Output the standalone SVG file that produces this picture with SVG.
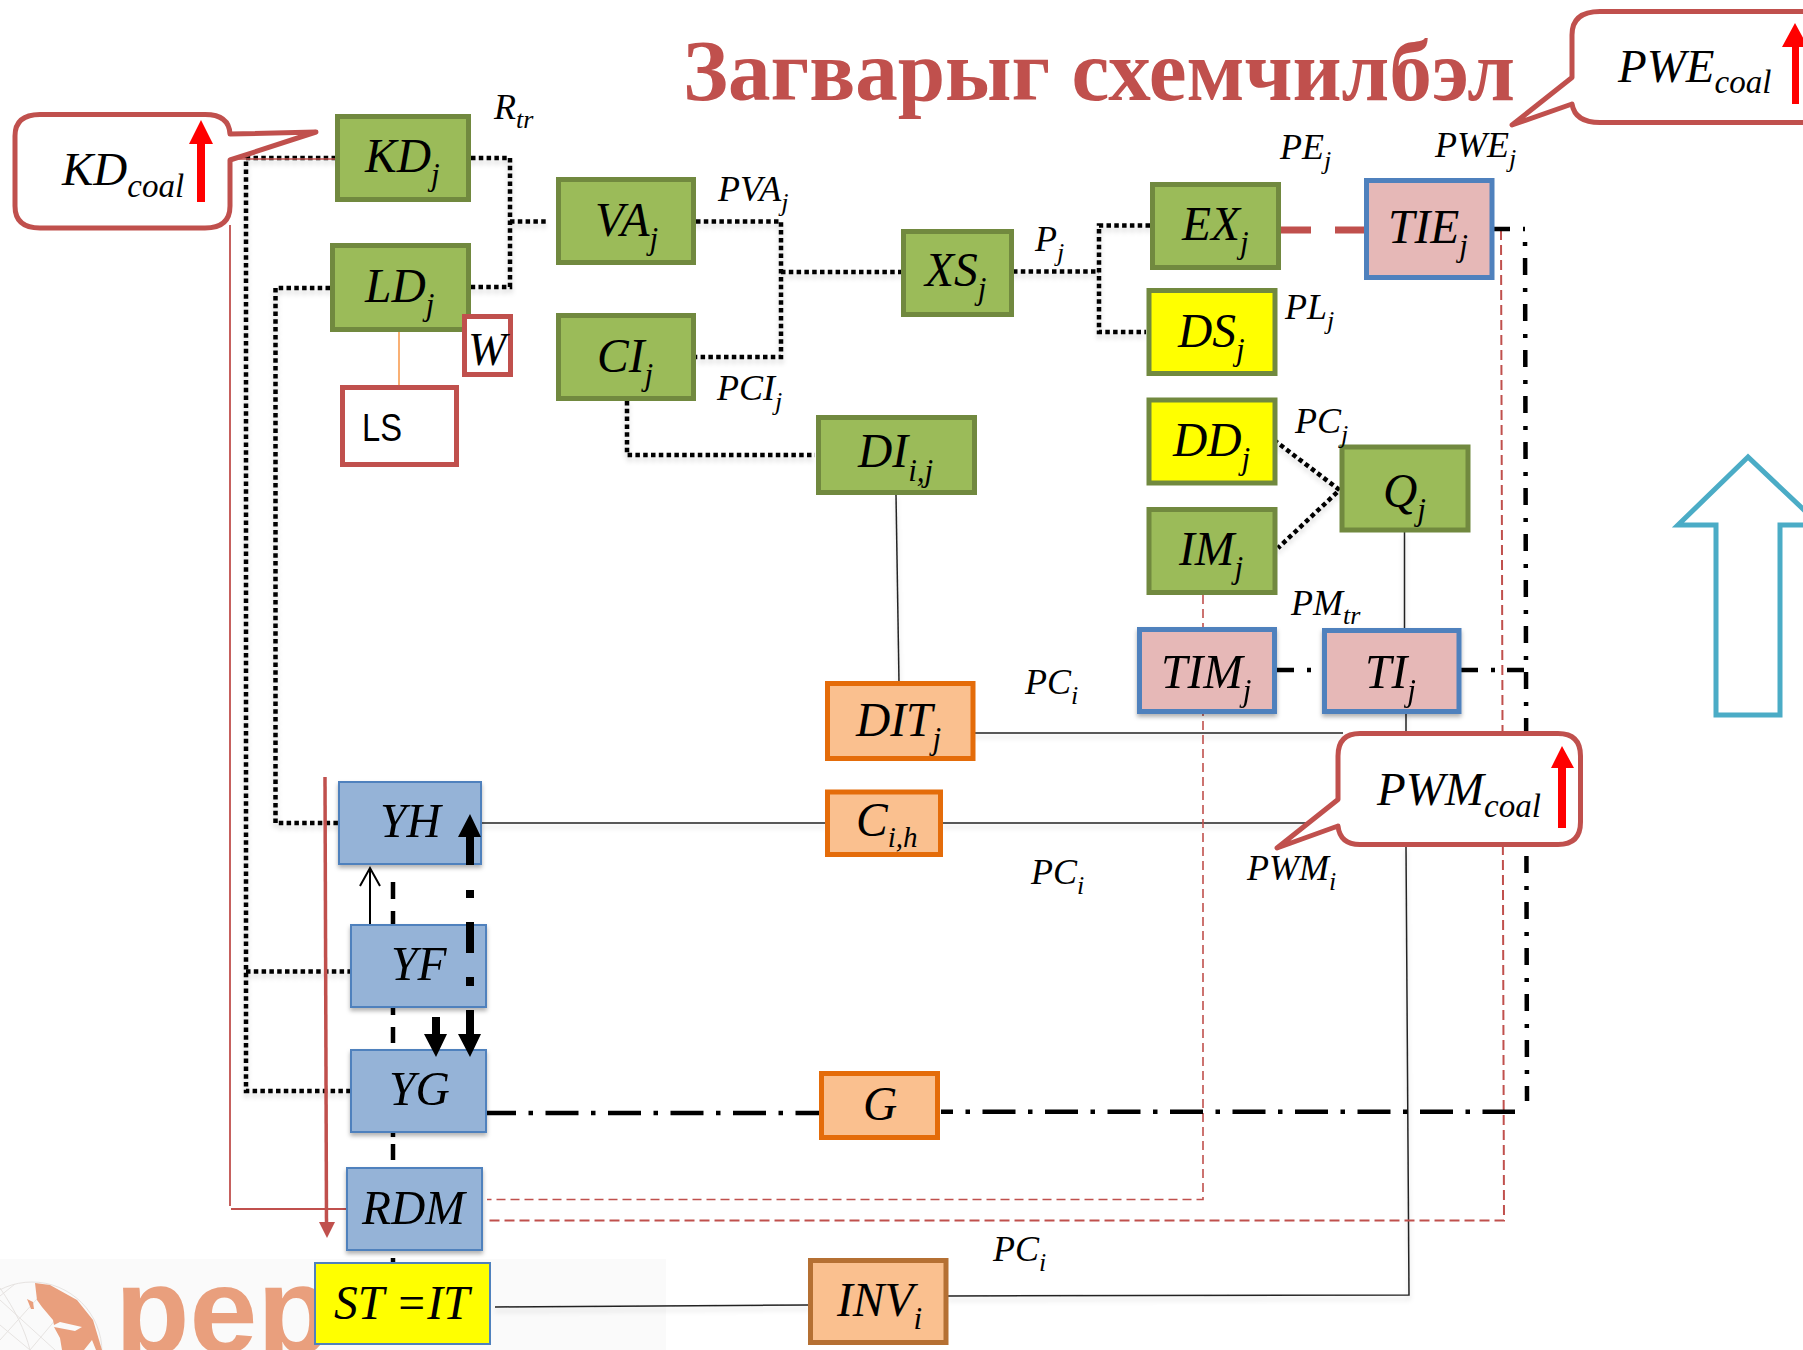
<svg xmlns="http://www.w3.org/2000/svg" width="1803" height="1350" viewBox="0 0 1803 1350">
<defs>
<filter id="sh" x="-10%" y="-10%" width="120%" height="125%"><feDropShadow dx="0" dy="3" stdDeviation="2" flood-color="#000" flood-opacity="0.3"/></filter>
<filter id="sl" filterUnits="userSpaceOnUse" x="0" y="0" width="1803" height="1350"><feDropShadow dx="0" dy="4" stdDeviation="2.500" flood-color="#000" flood-opacity="0.16"/></filter>
</defs>
<style>
text{font-family:"Liberation Serif","Times New Roman",serif;fill:#000}
.m{font-size:47.500px;font-style:italic}
.m .s{font-size:31px}
.l{font-size:36px;font-style:italic}
.l .s{font-size:26px}
.c{font-size:47px;font-style:italic}
.c .s{font-size:33px}
.gr{fill:#9BBB59;stroke:#71893F;stroke-width:5}
.ye{fill:#FFFF00;stroke:#71893F;stroke-width:5}
.pk{fill:#E6B8B7;stroke:#4F81BD;stroke-width:5}
.or{fill:#FAC08F;stroke:#E46C0A;stroke-width:5}
.bl{fill:#95B3D7;stroke:#4F81BD;stroke-width:2}
.wh{fill:#fff;stroke:#C0504D;stroke-width:5}
.co{fill:#fff;stroke:#C0504D;stroke-width:5;stroke-linejoin:round}
.dot{fill:none;stroke:#000;stroke-width:4.500;stroke-dasharray:4.500 3.300}
.thin{fill:none;stroke:#222;stroke-width:1.500}
.dd{fill:none;stroke:#000;stroke-width:4.500;stroke-dasharray:33 12.500 4.500 12.500}
.dv{fill:none;stroke:#000;stroke-width:4.500;stroke-dasharray:17 13 4 12}
.rd{fill:none;stroke:#C0504D;stroke-width:1.600;stroke-dasharray:9 5}
.rd2{fill:none;stroke:#C0504D;stroke-width:2;stroke-dasharray:10 5}
.blk{fill:#000}
.red{fill:#FF0000}
.grid{fill:none;stroke:#E6E3E1;stroke-width:1}
.land{fill:#E99F7D}
</style>
<rect width="1803" height="1350" fill="#fff"/>

<g id="logo">
<rect x="0" y="1259" width="666" height="91" fill="#FAFAFA"/>
<circle cx="32" cy="1352" r="70" class="grid"/>
<path class="grid" d="M0 1300L55 1350M0 1325L30 1350M15 1284L0 1296M45 1290L0 1340M30 1350L62 1312M0 1288C15 1310 25 1330 30 1350"/>
<path class="land" d="M35 1283L50 1285L77 1300L93 1320L102 1350L96 1350L92 1340L88 1345L84 1350L70 1350L62 1350L60 1338L54 1327L75 1331L82 1327L60 1322L54 1325L53 1320L42 1307L37 1300Z"/>
<path class="land" d="M27 1299L33 1302L34 1309L31 1309Z"/>
<text x="115" y="1353" font-size="122" font-weight="bold" style="font-family:'Liberation Sans',Arial,sans-serif;fill:#E99F7D">pep</text>
</g>

<text id="title" x="683" y="100" font-size="86" font-weight="bold" textLength="832" lengthAdjust="spacingAndGlyphs" style="fill:#C0504D">Загварыг схемчилбэл</text>

<g id="connectors">
<g filter="url(#sl)">
<path class="dot" d="M471 158H510V287H471"/>
<path class="dot" d="M510 221.500H546"/>
<path class="dot" d="M696 221.500H781V357H696"/>
<path class="dot" d="M781 272H901"/>
<path class="dot" d="M627 401V455H815"/>
<path class="dot" d="M330 288H275.500V823H338"/>
<path class="dot" d="M336 158H246V1091H350"/>
<path class="dot" d="M246 971.500H350"/>
<path class="dot" d="M1013 271.500H1099M1150 225.500H1099V332H1146"/>
<path class="dot" d="M1274 440L1339.500 490L1278 548"/>
<path class="thin" d="M896 495L899 682"/>
<path class="thin" d="M482 823H825"/>
<path class="thin" d="M943 823H1308"/>
<path class="thin" d="M970 733H1343"/>
<path class="thin" d="M1404.500 532V628M1406 713V731"/>
<path class="thin" d="M1406 847L1409 1295L948 1296"/>
<path class="thin" d="M495 1307L809 1305"/>
</g>
<path d="M336 159H232" fill="none" stroke="#C0504D" stroke-width="1.500"/>
<path d="M230 225V1206M231 1209H346" fill="none" stroke="#C0504D" stroke-width="1.800"/>
<path d="M325 777L326.500 1224" fill="none" stroke="#C0504D" stroke-width="3.500"/>
<path d="M319 1222L335 1222L327 1238Z" fill="#C0504D"/>
<path d="M399 331V385" fill="none" stroke="#F79646" stroke-width="1.500"/>
<path d="M1281 230H1311M1335 230H1364" fill="none" stroke="#C0504D" stroke-width="7"/>
<path class="rd" d="M1203 595V1199.500H487"/>
<path class="rd2" d="M1501 230L1504 1220.500H487"/>
<path class="dd" d="M483 1113H819"/>
<path class="dd" d="M941 1111.700H1515" stroke-dashoffset="21"/>
<path class="dv" d="M1493 229H1525"/>
<path class="dv" d="M1525 229L1527 1101" stroke-dashoffset="17"/>
<path class="dv" d="M1277 670H1322"/>
<path class="dv" d="M1461 670H1525"/>
<path d="M393 882V899M393 911V924M393 1008V1015M393 1027V1043M393 1133V1137M393 1144V1160M393 1258V1262" fill="none" stroke="#000" stroke-width="4.500"/>
<path d="M370 924V870" fill="none" stroke="#000" stroke-width="2"/>
<path d="M360 886L370 868L380 886" fill="none" stroke="#000" stroke-width="2"/>
</g>

<g id="n-kd"><rect class="gr" x="337.500" y="116.500" width="131" height="83"/><text class="m" x="365" y="172">KD<tspan class="s" dy="13">j</tspan></text></g>
<g id="n-ld"><rect class="gr" x="332.500" y="245.500" width="136" height="84"/><text class="m" x="365" y="302">LD<tspan class="s" dy="13">j</tspan></text></g>
<g id="n-va"><rect class="gr" x="558.500" y="179.500" width="135" height="83"/><text class="m" x="595" y="236">VA<tspan class="s" dy="13">j</tspan></text></g>
<g id="n-ci"><rect class="gr" x="558.500" y="315.500" width="135" height="83"/><text class="m" x="597" y="372">CI<tspan class="s" dy="13">j</tspan></text></g>
<g id="n-w"><rect class="wh" x="464.500" y="316.500" width="46" height="58"/><text x="468" y="365" font-size="46" font-style="italic">W</text></g>
<g id="n-ls"><rect class="wh" x="342.500" y="387.500" width="114" height="77"/><text x="362" y="441" font-size="38" textLength="40" lengthAdjust="spacingAndGlyphs" style="font-family:'Liberation Sans',Arial,sans-serif">LS</text></g>
<g id="n-xs"><rect class="gr" x="903.500" y="231.500" width="108" height="83"/><text class="m" x="925" y="286">XS<tspan class="s" dy="13">j</tspan></text></g>
<g id="n-di"><rect class="gr" x="818.500" y="417.500" width="156" height="75"/><text class="m" x="858" y="467">DI<tspan class="s" dy="14">i,j</tspan></text></g>
<g id="n-ex"><rect class="gr" x="1152.500" y="184.500" width="126" height="83"/><text class="m" x="1182" y="240">EX<tspan class="s" dy="13">j</tspan></text></g>
<g id="n-ds"><rect class="ye" x="1149" y="290.500" width="126" height="83"/><text class="m" x="1178" y="347">DS<tspan class="s" dy="13">j</tspan></text></g>
<g id="n-dd"><rect class="ye" x="1149" y="400" width="126" height="83"/><text class="m" x="1173" y="456">DD<tspan class="s" dy="13">j</tspan></text></g>
<g id="n-im"><rect class="gr" x="1149" y="509.500" width="126" height="83"/><text class="m" x="1179" y="565">IM<tspan class="s" dy="13">j</tspan></text></g>
<g id="n-q"><rect class="gr" x="1342" y="447" width="126" height="83"/><text class="m" x="1383" y="507">Q<tspan class="s" dy="13">j</tspan></text></g>
<g id="n-tie"><rect class="pk" x="1366.500" y="180.500" width="125.500" height="97"/><text class="m" x="1388" y="243">TIE<tspan class="s" dy="13">j</tspan></text></g>
<g id="n-tim" filter="url(#sh)"><rect class="pk" x="1139.500" y="629.500" width="135" height="82"/><text class="m" x="1161" y="688">TIM<tspan class="s" dy="13">j</tspan></text></g>
<g id="n-ti" filter="url(#sh)"><rect class="pk" x="1324.500" y="630.500" width="134.500" height="81"/><text class="m" x="1365" y="688">TI<tspan class="s" dy="13">j</tspan></text></g>
<g id="n-dit"><rect class="or" x="827.500" y="683.500" width="145.500" height="75"/><text class="m" x="856" y="736">DIT<tspan class="s" dy="13">j</tspan></text></g>
<g id="n-c"><rect class="or" x="827.500" y="792" width="113" height="62.500"/><text class="m" x="856" y="836">C<tspan class="s" dy="11" style="font-size:29px">i,h</tspan></text></g>
<g id="n-g"><rect class="or" x="821.500" y="1073.500" width="116" height="64"/><text class="m" x="863" y="1120">G</text></g>
<g id="n-inv"><rect x="810.500" y="1260.500" width="135.500" height="82" fill="#FAC08F" stroke="#B57033" stroke-width="5"/><text class="m" x="837" y="1316">INV<tspan class="s" dy="13">i</tspan></text></g>
<g id="n-yh" filter="url(#sh)"><rect class="bl" x="339" y="782" width="142" height="82"/><text class="m" x="380" y="837">YH</text></g>
<g id="n-yf" filter="url(#sh)"><rect class="bl" x="351" y="925" width="135" height="82"/><text class="m" x="391" y="980">YF</text></g>
<g id="n-yg" filter="url(#sh)"><rect class="bl" x="351" y="1050" width="135" height="82"/><text class="m" x="389" y="1105">YG</text></g>
<g id="n-rdm" filter="url(#sh)"><rect class="bl" x="347" y="1168" width="135" height="82"/><text class="m" x="362" y="1224">RDM</text></g>
<g id="n-st"><rect x="315" y="1263" width="175" height="81" fill="#FFFF00" stroke="#4F81BD" stroke-width="2"/><text class="m" x="334" y="1319">ST =IT</text></g>

<g id="thick-arrows">
<path class="blk" d="M470 814L481 837H474V865H466V837H458Z"/>
<path class="blk" d="M466 890H474V898H466ZM466 922H474V953H466ZM466 977H474V986H466Z"/>
<path class="blk" d="M466 1010H474V1034H481L470 1057L458 1034H466Z"/>
<path class="blk" d="M432 1017H440V1034H447L436 1057L424 1034H432Z"/>
</g>

<g id="c-kd">
<path class="co" d="M40 114.500H205Q229 114.500 230 134L316 132L230 160V206Q230 228 205 228H40Q15 228 15 206V136Q15 114.500 40 114.500Z"/>
<text class="c" x="62" y="185">KD<tspan class="s" dy="12">coal</tspan></text>
<path class="red" d="M201 120L213 144H205V202H197V144H189Z"/>
</g>
<g id="c-pwe">
<path class="co" d="M1600 11.500H1830V122.500H1600Q1575 122.500 1572 104L1512 125L1572 77.500V35Q1572 11.500 1600 11.500Z"/>
<text class="c" x="1618" y="82">PWE<tspan class="s" dy="11">coal</tspan></text>
<path class="red" d="M1795 23L1808 47H1799V104H1792V47H1782Z"/>
</g>
<g id="c-pwm">
<path class="co" d="M1360 733.500H1558Q1580.500 733.500 1580.500 756V822Q1580.500 844.500 1558 844.500H1360Q1340 844.500 1338 826L1277 848L1338 799.500V756Q1338 733.500 1360 733.500Z"/>
<text class="c" x="1377" y="805">PWM<tspan class="s" dy="12">coal</tspan></text>
<path class="red" d="M1562 746L1574 768H1566V828H1558V768H1551Z"/>
</g>

<g id="labels">
<text class="l" x="494" y="119">R<tspan class="s" dy="9">tr</tspan></text>
<text class="l" x="718" y="201">PVA<tspan class="s" dy="10">j</tspan></text>
<text class="l" x="717" y="400">PCI<tspan class="s" dy="10">j</tspan></text>
<text class="l" x="1035" y="251">P<tspan class="s" dy="10">j</tspan></text>
<text class="l" x="1280" y="159">PE<tspan class="s" dy="10">j</tspan></text>
<text class="l" x="1435" y="157">PWE<tspan class="s" dy="10">j</tspan></text>
<text class="l" x="1285" y="319">PL<tspan class="s" dy="10">j</tspan></text>
<text class="l" x="1295" y="433">PC<tspan class="s" dy="10">j</tspan></text>
<text class="l" x="1291" y="615">PM<tspan class="s" dy="9">tr</tspan></text>
<text class="l" x="1025" y="694">PC<tspan class="s" dy="10">i</tspan></text>
<text class="l" x="1031" y="884">PC<tspan class="s" dy="10">i</tspan></text>
<text class="l" x="1247" y="880">PWM<tspan class="s" dy="10">i</tspan></text>
<text class="l" x="993" y="1261">PC<tspan class="s" dy="10">i</tspan></text>
</g>

<path id="up-arrow" d="M1748 457L1678 525H1716V715H1780V525H1820Z" fill="#fff" stroke="#4BACC6" stroke-width="5"/>
</svg>
